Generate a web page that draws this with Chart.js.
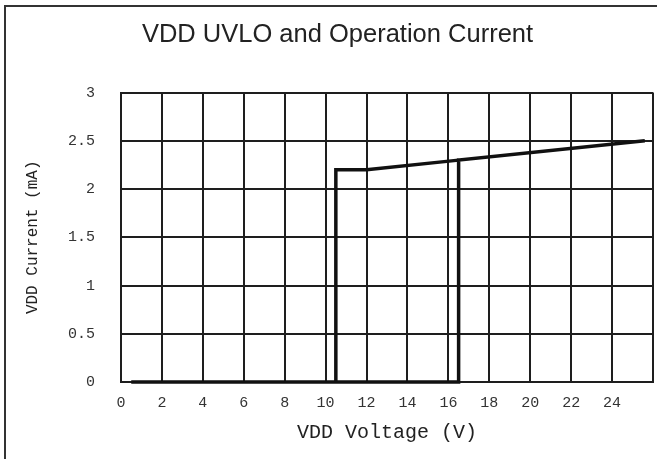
<!DOCTYPE html>
<html>
<head>
<meta charset="utf-8">
<script src="https://cdn.jsdelivr.net/npm/chart.js@4.4.0/dist/chart.umd.min.js"></script>
<style>
  html, body { margin: 0; padding: 0; background: #fff; }
  #wrap { width: 657px; height: 459px; }
</style>
</head>
<body>
<div id="wrap"><canvas id="myChart" width="657" height="459"></canvas></div>
<script>
// VDD rising: stays off until UVLO(on), then jumps to operating current
const risingV = [0.5, 16.5, 16.5, 25.6];
const risingI = [0, 0, 2.3, 2.5];
// VDD falling: keeps running down to UVLO(off)
const fallingV = [16.5, 12, 10.5, 10.5];
const fallingI = [2.3, 2.2, 2.2, 0];

const xTicks = [0, 2, 4, 6, 8, 10, 12, 14, 16, 18, 20, 22, 24];
const yTicks = [0, 0.5, 1, 1.5, 2, 2.5, 3];

const ink = '#1e1e1e';
const mono = '"Liberation Mono", "DejaVu Sans Mono", monospace';

const pts = (xs, ys) => xs.map((x, i) => ({ x: x, y: ys[i] }));

const frame = {
    id: 'frame',
    beforeDraw(chart) {
        const c = chart.ctx;
        c.save();
        c.fillStyle = '#fff';
        c.fillRect(0, 0, chart.width, chart.height);
        c.strokeStyle = '#333';
        c.lineWidth = 2;
        c.strokeRect(5, 6, 700, 500);
        c.restore();
    }
};

const ctx = document.getElementById('myChart').getContext('2d');

const myChart = new Chart(ctx, {
    type: 'line',
    data: {
        datasets: [{
            data: pts(risingV, risingI),
            borderColor: '#111',
            borderWidth: 3.5,
            pointRadius: 0,
            tension: 0,
            clip: false
        }, {
            data: pts(fallingV, fallingI),
            borderColor: '#111',
            borderWidth: 3.5,
            pointRadius: 0,
            tension: 0,
            clip: false
        }]
    },
    options: {
        responsive: false,
        animation: false,
        layout: { padding: { left: 22, right: 4, top: 0, bottom: 0 } },
        scales: {
            x: {
                type: 'linear',
                min: 0,
                max: 26,
                afterFit: s => { s.height = 77; s.paddingLeft = 0; s.paddingRight = 0; },
                border: { color: ink, width: 2 },
                grid: { color: ink, lineWidth: 2, drawTicks: false },
                ticks: {
                    stepSize: 2,
                    padding: 12,
                    color: '#333',
                    font: { family: mono, size: 15 },
                    callback: v => xTicks.includes(v) ? String(v) : ''
                },
                title: {
                    display: true,
                    text: 'VDD Voltage (V)',
                    color: '#222',
                    font: { family: mono, size: 20 },
                    padding: { top: 14, bottom: 14 }
                }
            },
            y: {
                min: 0,
                max: 3,
                afterFit: s => { s.width = 99; s.paddingTop = 0; s.paddingBottom = 0; },
                border: { color: ink, width: 2 },
                grid: { color: ink, lineWidth: 2, drawTicks: false },
                ticks: {
                    stepSize: 0.5,
                    padding: 26,
                    color: '#333',
                    font: { family: mono, size: 15 },
                    callback: v => yTicks.includes(v) ? String(v) : ''
                },
                title: {
                    display: true,
                    text: 'VDD Current (mA)',
                    color: '#222',
                    font: { family: mono, size: 16 },
                    padding: { top: 1, bottom: 1 }
                }
            }
        },
        plugins: {
            legend: { display: false },
            tooltip: { enabled: false },
            title: {
                display: true,
                text: 'VDD UVLO and Operation Current',
                color: '#222',
                font: { family: '"Liberation Sans", Arial, sans-serif', size: 25.5, weight: 'normal' },
                padding: { top: 20, bottom: 42 }
            }
        }
    },
    plugins: [frame]
});
</script>
</body>
</html>
